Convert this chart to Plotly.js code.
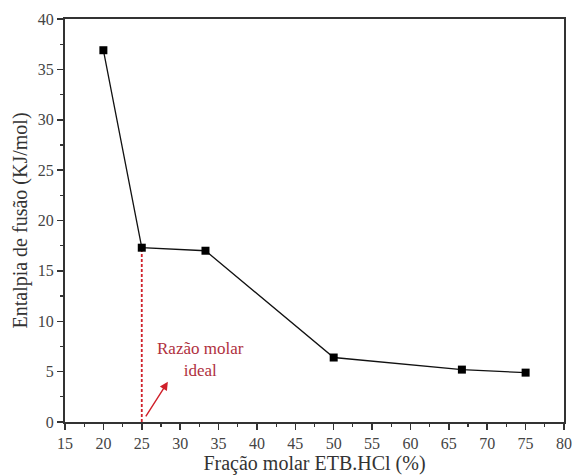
<!DOCTYPE html>
<html><head><meta charset="utf-8">
<script src="https://cdn.plot.ly/plotly-3.0.1.min.js"></script>
<style>html,body{margin:0;padding:0;background:#fff}</style>
</head><body>
<div id="chart" style="width:572px;height:475px"></div>
<script>
const fracao = [20, 25, 33.3, 50, 66.7, 75];
const entalpia = [36.9, 17.3, 17.0, 6.4, 5.2, 4.9];
const idealX = [25, 25];
const idealY = [0, 17.3];
const xTicks = [15, 20, 25, 30, 35, 40, 45, 50, 55, 60, 65, 70, 75, 80];
const yTicks = [0, 5, 10, 15, 20, 25, 30, 35, 40];

const font = "Liberation Serif, Times New Roman, serif";
const traces = [
  {x: idealX, y: idealY, mode: 'lines', line: {color: '#d0202a', width: 1.8, dash: '3px,2px'}, hoverinfo: 'skip'},
  {x: fracao, y: entalpia, mode: 'lines+markers', line: {color: '#111', width: 1.3},
   marker: {symbol: 'square', size: 8, color: '#000'}}
];
const axisBase = {showgrid: false, zeroline: false, showline: true, linecolor: '#333', linewidth: 2,
  mirror: true, ticks: 'outside', ticklen: 6, tickwidth: 1.5, tickcolor: '#333',
  tickfont: {family: font, size: 16, color: '#444'},
  minor: {ticks: 'outside', ticklen: 3, tickwidth: 1.2, tickcolor: '#333'}};
const layout = {
  width: 572, height: 475, showlegend: false,
  margin: {l: 65, r: 8, t: 19, b: 53},
  paper_bgcolor: '#fff', plot_bgcolor: '#fff',
  xaxis: Object.assign({}, axisBase, {range: [15, 80], tickvals: xTicks, ticktext: xTicks.map(String),
    minor: Object.assign({}, axisBase.minor, {dtick: 2.5, tick0: 15}),
    title: {text: 'Fração molar ETB.HCl (%)', font: {family: font, size: 20, color: '#333'}, standoff: 2}}),
  yaxis: Object.assign({}, axisBase, {range: [0, 40], tickvals: yTicks, ticktext: yTicks.map(String),
    minor: Object.assign({}, axisBase.minor, {dtick: 2.5, tick0: 0}),
    title: {text: 'Entalpia de fusão (KJ/mol)', font: {family: font, size: 20, color: '#333'}, standoff: 5}}),
  annotations: [
    {x: 32.7, y: 6.2, xref: 'x', yref: 'y', text: 'Razão molar<br>ideal', showarrow: false,
     font: {family: font, size: 17, color: '#b0303e'}},
    {x: 28.4, y: 4.0, ax: 25.4, ay: 0.4, xref: 'x', yref: 'y', axref: 'x', ayref: 'y', text: '',
     showarrow: true, arrowhead: 2, arrowsize: 1.2, arrowwidth: 1.4, arrowcolor: '#d0202a'}
  ]
};
Plotly.newPlot('chart', traces, layout, {displayModeBar: false, staticPlot: true});
</script>
</body></html>
